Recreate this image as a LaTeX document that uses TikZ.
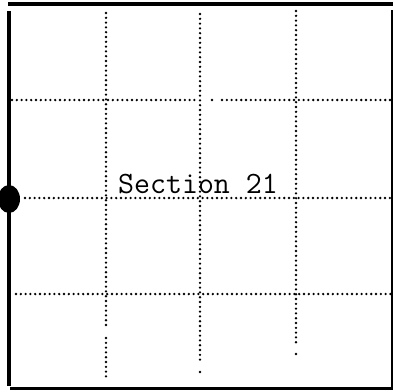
\documentclass[tikz,border=0pt]{standalone}
\begin{document}
\begin{tikzpicture}[x=1pt, y=-1pt,
    frame/.style={line width=3.5pt, line cap=butt},
    quarter/.style={line width=2.6pt, line cap=round, dash pattern=on 0pt off 4.8pt},
    seclabel/.style={font=\fontsize{31}{37}\selectfont\ttfamily, inner sep=0pt}]
  \useasboundingbox (0,0) rectangle (395,391);
  % outer border of the section
  \draw[frame] (8,4) -- (393,4);
  \draw[frame] (9,11) -- (9,386);
  \draw[frame, line width=2pt] (392,10) -- (392,387);
  \draw[frame, line width=3pt] (10,388) -- (393,388);
  % quarter lines, gaps as on the sheet
  \draw[quarter] (106,13) -- (106,328)  (106,338) -- (106,381);
  \draw[quarter] (200,14) -- (200,363)  (200,372) -- (200,372.1);
  \draw[quarter] (296,11) -- (296,345)  (296,354) -- (296,354.1);
  \draw[quarter] (12,100) -- (197,100)  (212,100) -- (212.1,100)  (222,100) -- (391,100);
  \draw[quarter] (25,198) -- (390,198);
  \draw[quarter] (16,294) -- (391,294);
  \node[seclabel, anchor=base] (sec) at (198,193) {Section 21};
  \fill (9,199) ellipse [x radius=11pt, y radius=14pt];
\end{tikzpicture}
\end{document}
